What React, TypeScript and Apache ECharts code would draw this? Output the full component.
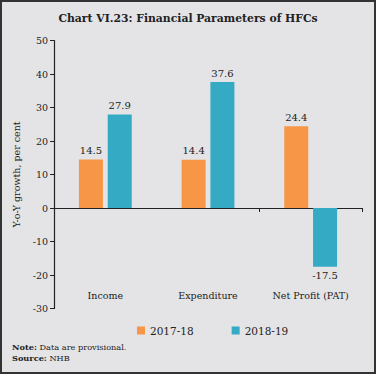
import React, { useEffect, useRef } from 'react';
import * as echarts from 'echarts';

const categories = ['Income', 'Expenditure', 'Net Profit (PAT)'];
const seriesNames = ['2017-18', '2018-19'];
const values2017 = [14.5, 14.4, 24.4];
const values2018 = [27.9, 37.6, -17.5];
const yMin = -30;
const yMax = 50;
const yInterval = 10;

const FONT = 'DejaVu Serif';
const INK = '#222';
const ORANGE = '#F79646';
const TEAL = '#35AAC4';

export default function App() {
  const ref = useRef<HTMLDivElement>(null);
  useEffect(() => {
    document.body.style.margin = '0';
    const chart = echarts.init(ref.current!, null, { renderer: 'svg' });
    const mkData = (vals: number[]) =>
      vals.map((v) => ({
        value: v,
        label: { position: v < 0 ? 'bottom' : 'top' },
      }));
    const barLabel = {
      show: true,
      distance: 4,
      fontFamily: FONT,
      fontSize: 10,
      color: INK,
      formatter: (p: any) => Number(p.value).toFixed(1),
    };
    chart.setOption({
      animation: false,
      backgroundColor: '#e4e4e6',
      title: {
        text: 'Chart VI.23: Financial Parameters of HFCs',
        left: 'center',
        top: 8,
        textStyle: { fontFamily: FONT, fontWeight: 'bold', fontSize: 10.8, color: INK },
      },
      grid: { left: 54, right: 14, top: 40.5, bottom: 65.5, containLabel: false },
      xAxis: [
        {
          type: 'category',
          data: categories,
          position: 'bottom',
          axisLine: { show: false, onZero: false },
          axisTick: { show: false },
          axisLabel: { margin: -18, fontFamily: FONT, fontSize: 9.5, color: INK },
        },
        {
          type: 'category',
          data: categories,
          position: 'bottom',
          axisLine: { show: true, onZero: true, lineStyle: { color: INK, width: 1.2 } },
          axisTick: { show: true, length: 4, lineStyle: { color: INK } },
          axisLabel: { show: false },
        },
      ],
      yAxis: {
        type: 'value',
        min: yMin,
        max: yMax,
        interval: yInterval,
        axisLine: { show: true, lineStyle: { color: INK, width: 1.2 } },
        axisTick: { show: true, length: 4, lineStyle: { color: INK } },
        axisLabel: { margin: 6, fontFamily: FONT, fontSize: 9.5, color: INK },
        splitLine: { show: false },
        name: 'Y-o-Y growth, per cent',
        nameLocation: 'middle',
        nameGap: 30,
        nameTextStyle: { fontFamily: FONT, fontSize: 9.5, color: INK },
      },
      legend: {
        top: 320,
        left: 132,
        itemWidth: 8,
        itemHeight: 8,
        itemGap: 38,
        icon: 'rect',
        textStyle: { fontFamily: FONT, fontSize: 10.5, color: INK },
        data: seriesNames,
      },
      series: [
        {
          name: seriesNames[0],
          type: 'bar',
          xAxisIndex: 0,
          data: mkData(values2017),
          barWidth: 24,
          barGap: '20%',
          itemStyle: { color: ORANGE },
          label: barLabel,
        },
        {
          name: seriesNames[1],
          type: 'bar',
          xAxisIndex: 0,
          data: mkData(values2018),
          barWidth: 24,
          barGap: '20%',
          itemStyle: { color: TEAL },
          label: barLabel,
        },
      ],
      graphic: [
        {
          type: 'rect',
          shape: { x: 1, y: 1, width: 374, height: 372 },
          style: { fill: 'none', stroke: '#333', lineWidth: 2 },
          silent: true,
        },
        {
          type: 'text',
          left: 12,
          top: 343,
          style: {
            text: '{b|Note:} Data are provisional.',
            rich: {
              b: { fontFamily: FONT, fontWeight: 'bold', fontSize: 8.2, fill: INK },
            },
            fontFamily: FONT,
            fontSize: 8.2,
            fill: INK,
          },
        },
        {
          type: 'text',
          left: 12,
          top: 354,
          style: {
            text: '{b|Source:} NHB',
            rich: {
              b: { fontFamily: FONT, fontWeight: 'bold', fontSize: 8.2, fill: INK },
            },
            fontFamily: FONT,
            fontSize: 8.2,
            fill: INK,
          },
        },
      ],
    });
    return () => chart.dispose();
  }, []);
  return <div ref={ref} style={{ width: 376, height: 374 }} />;
}
